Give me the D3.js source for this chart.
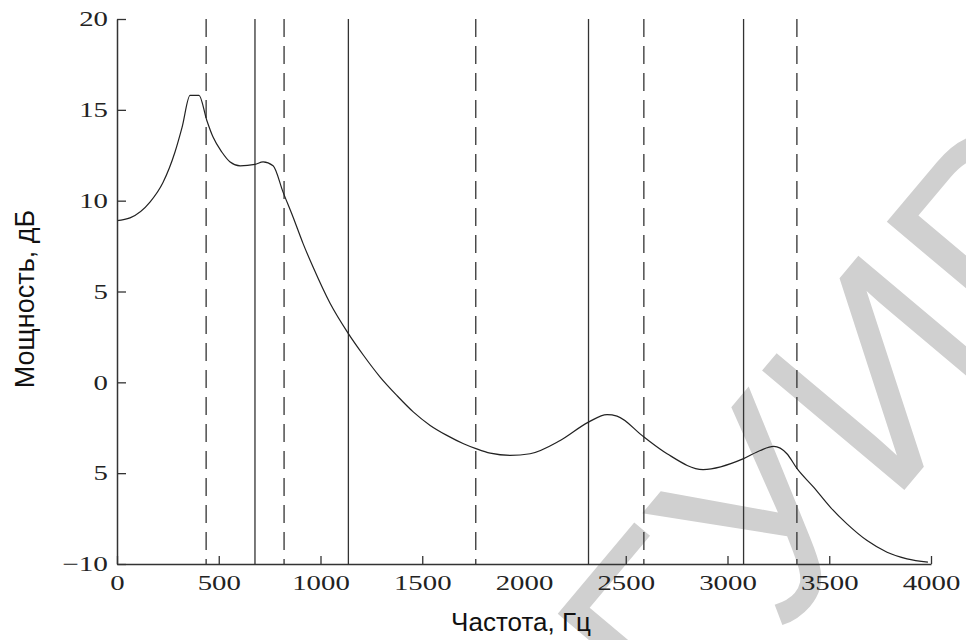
<!DOCTYPE html>
<html>
<head>
<meta charset="utf-8">
<script src="https://cdn.jsdelivr.net/npm/d3@7"></script>
<style>
  body { margin: 0; background: #fff; }
  svg { display: block; }
</style>
</head>
<body>
<div id="container"></div>
<script>
/* CONSTANTS AND GLOBALS */
const width = 966,
  height = 640,
  margin = { top: 19, bottom: 76, left: 117, right: 35 };

/* DATA */
// frequency (Hz) and power (dB)
const freq = [0, 64, 162, 226, 285, 320, 359, 403, 441, 472, 515, 556, 605, 678, 718, 767,
  816, 865, 914, 964, 1047, 1137, 1211, 1293, 1375, 1457, 1539, 1621, 1703, 1764,
  1834, 1932, 2030, 2178, 2317, 2408, 2457, 2588, 2703, 2880, 3079, 3161, 3227,
  3292, 3342, 3423, 3505, 3587, 3686, 3784, 3882, 3985];
const power = [8.9, 9.05, 9.92, 11.0, 12.68, 14.05, 15.8, 15.8, 14.43, 13.5, 12.68, 12.13, 11.92, 12.0, 12.13, 11.92,
  10.47, 9.1, 7.65, 6.33, 4.35, 2.68, 1.49, 0.29, -0.72, -1.64, -2.37, -2.92, -3.38, -3.65,
  -3.9, -4.02, -3.93, -3.2, -2.19, -1.78, -1.86, -3.0, -3.93, -4.8, -4.2, -3.75, -3.53,
  -3.93, -4.75, -5.77, -6.87, -7.79, -8.71, -9.35, -9.72, -9.9];

// vertical marker lines (Hz)
const solidLines = [678, 1137, 2317, 3079];
const dashedLines = [438, 821, 1763, 2589, 3341];

// tick labels
const xTicks = [0, 500, 1000, 1500, 2000, 2500, 3000, 3500, 4000];
const xTickLabels = ["0", "500", "1000", "1500", "2000", "2500", "3000", "3500", "4000"];
const yTicks = [20, 15, 10, 5, 0, -5, -10];
const yTickLabels = ["20", "15", "10", "5", "0", "5", "\u221210"];

const xTitle = "Частота, Гц";
const yTitle = "Мощность, дБ";
const watermark = "БГУИР";

const data = freq.map((f, i) => ({ f: f, p: power[i] }));

/* SCALES */
const xScale = d3.scaleLinear()
  .domain([0, 4000])
  .range([margin.left, width - margin.right]);

const yScale = d3.scaleLinear()
  .domain([-10, 20])
  .range([height - margin.bottom, margin.top]);

/* SVG */
const svg = d3.select("#container")
  .append("svg")
  .attr("width", width)
  .attr("height", height);

// watermark behind everything (runs off the page like in the scan)
svg.append("text")
  .attr("transform", "translate(572,886) rotate(-50)")
  .attr("font-family", "'Liberation Sans', Arial, sans-serif")
  .attr("font-size", 270)
  .attr("fill", "#d0d0d0")
  .text(watermark);

// vertical lines
svg.append("g")
  .selectAll("line")
  .data(solidLines)
  .join("line")
  .attr("x1", d => xScale(d))
  .attr("x2", d => xScale(d))
  .attr("y1", yScale(20))
  .attr("y2", yScale(-10))
  .attr("stroke", "#333")
  .attr("stroke-width", 1.3);

svg.append("g")
  .selectAll("line")
  .data(dashedLines)
  .join("line")
  .attr("x1", d => xScale(d))
  .attr("x2", d => xScale(d))
  .attr("y1", yScale(20))
  .attr("y2", yScale(-10))
  .attr("stroke", "#333")
  .attr("stroke-width", 1.3)
  .attr("stroke-dasharray", "18,9");

// curve
const line = d3.line()
  .x(d => xScale(d.f))
  .y(d => yScale(d.p))
  .curve(d3.curveMonotoneX);

svg.append("path")
  .datum(data)
  .attr("d", line)
  .attr("fill", "none")
  .attr("stroke", "#222")
  .attr("stroke-width", 1.2);

/* AXES */
const tickFont = "'Liberation Serif', 'Times New Roman', serif";
const digitW = 14.4;

const xAxis = d3.axisBottom(xScale)
  .tickValues(xTicks)
  .tickFormat((d, i) => xTickLabels[i])
  .tickSizeInner(-8)
  .tickSizeOuter(0)
  .tickPadding(11);

const gx = svg.append("g")
  .attr("transform", `translate(0,${yScale(-10)})`)
  .call(xAxis);

const yAxis = d3.axisLeft(yScale)
  .tickValues(yTicks)
  .tickFormat((d, i) => yTickLabels[i])
  .tickSizeInner(-9)
  .tickSizeOuter(0)
  .tickPadding(9);

const gy = svg.append("g")
  .attr("transform", `translate(${xScale(0)},0)`)
  .call(yAxis);

[gx, gy].forEach(g => {
  g.select(".domain").attr("stroke", "#333").attr("stroke-width", 1.5);
  g.selectAll(".tick line").attr("stroke", "#333").attr("stroke-width", 1.3);
  g.selectAll(".tick text")
    .attr("font-family", tickFont)
    .attr("font-size", 21)
    .attr("fill", "#222")
    .attr("textLength", function () {
      const t = this.textContent;
      return t.replace("\u2212", "").length * digitW + (t.includes("\u2212") ? 17 : 0);
    })
    .attr("lengthAdjust", "spacingAndGlyphs");
});

// 2000 tick mark is missing in the original
gx.selectAll(".tick").filter(d => d === 2000).select("line").remove();

/* TITLES */
svg.append("text")
  .attr("x", 521)
  .attr("y", 631)
  .attr("text-anchor", "middle")
  .attr("font-family", "'Liberation Sans', Arial, sans-serif")
  .attr("font-size", 26)
  .attr("fill", "#111")
  .text(xTitle);

svg.append("text")
  .attr("transform", "rotate(-90)")
  .attr("x", -299)
  .attr("y", 34)
  .attr("text-anchor", "middle")
  .attr("font-family", "'Liberation Sans', Arial, sans-serif")
  .attr("font-size", 27)
  .attr("fill", "#111")
  .text(yTitle);
</script>
</body>
</html>
